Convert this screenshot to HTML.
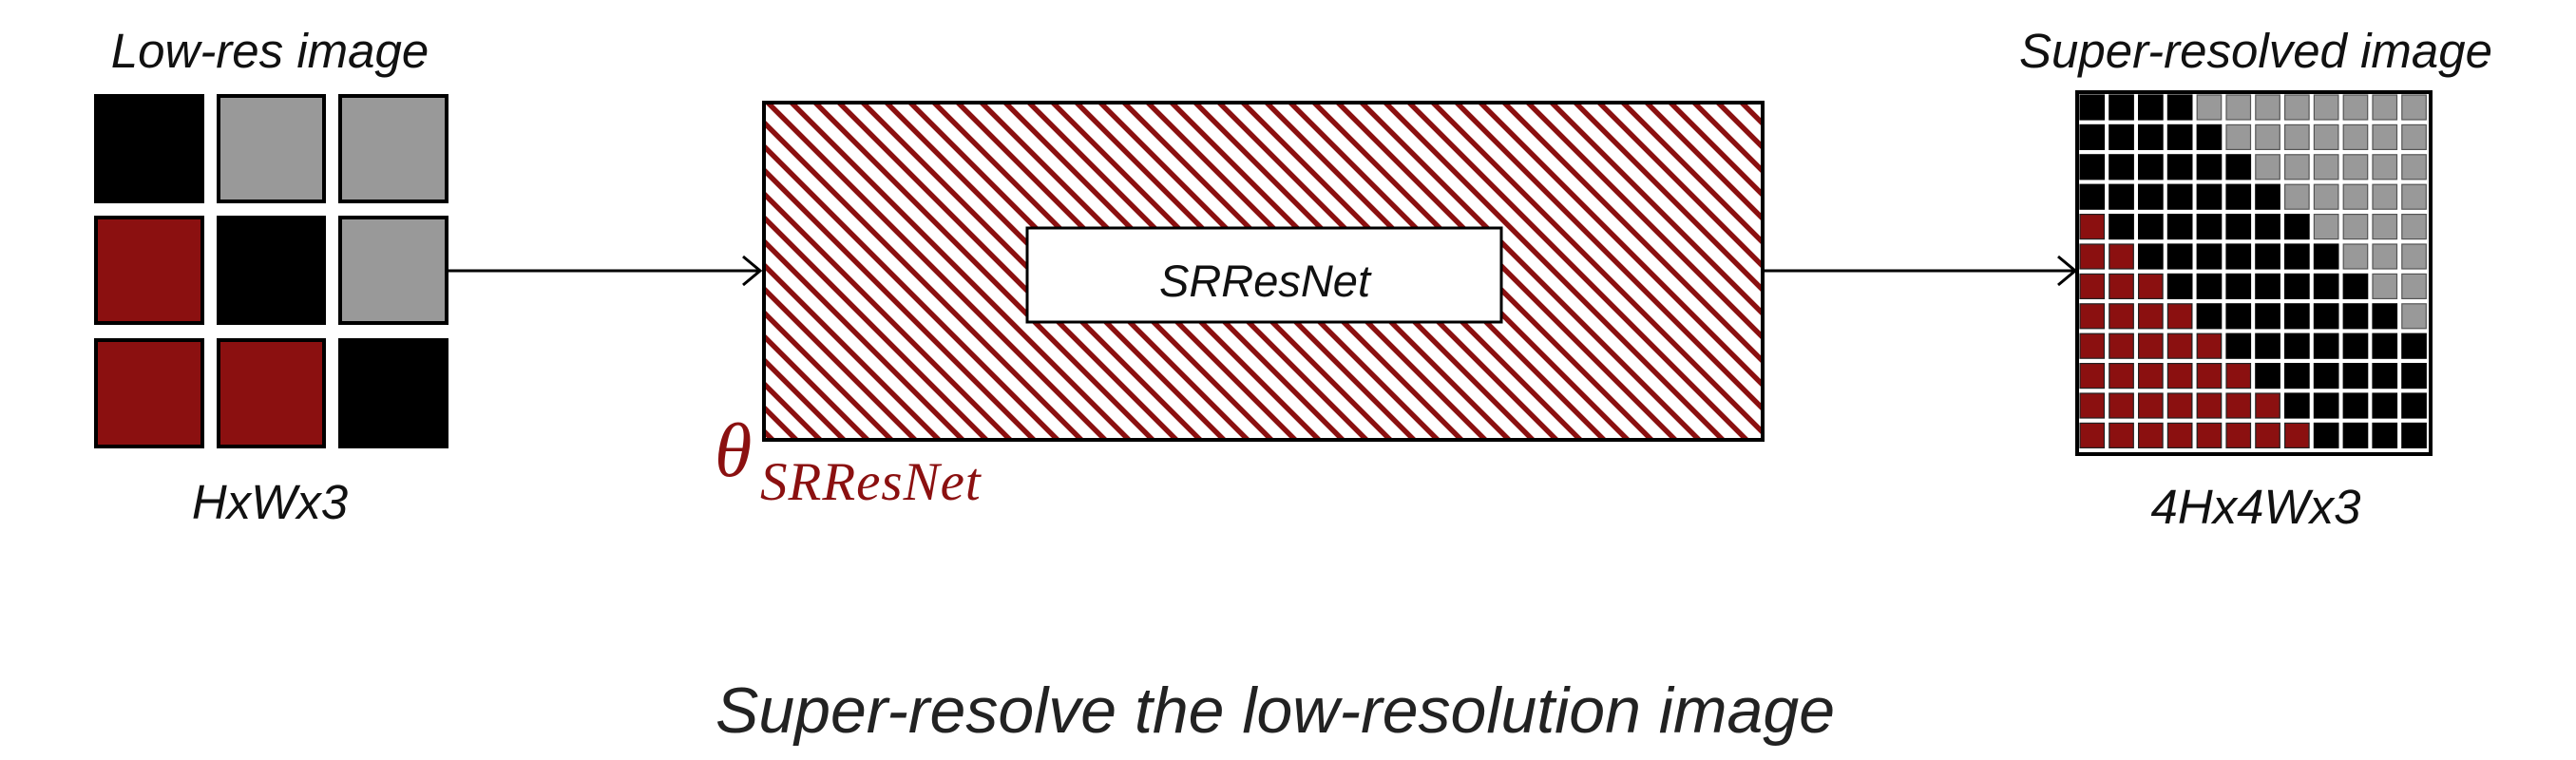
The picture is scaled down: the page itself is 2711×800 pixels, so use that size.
<!DOCTYPE html>
<html><head><meta charset="utf-8"><style>
html,body{margin:0;padding:0;background:#fff;}
body{width:2711px;height:800px;position:relative;overflow:hidden;font-family:"Liberation Sans",sans-serif;}
.t{position:absolute;font-style:italic;color:#111;white-space:nowrap;transform:translateX(-50%);line-height:1;}
</style></head><body>
<svg width="2711" height="800" style="position:absolute;left:0;top:0">
<defs>
<pattern id="h" patternUnits="userSpaceOnUse" width="25" height="25">
<rect width="25" height="25" fill="#fff"/>
<path d="M-6.25,-6.25 L31.25,31.25 M-18.75,6.25 L18.75,43.75 M6.25,-18.75 L43.75,18.75" stroke="#8b1010" stroke-width="5.5"/>
</pattern>
</defs>
<rect x="99" y="99" width="116" height="115" fill="#000"/>
<rect x="230" y="101" width="111" height="111" fill="#999" stroke="#000" stroke-width="4"/>
<rect x="358" y="101" width="112" height="111" fill="#999" stroke="#000" stroke-width="4"/>
<rect x="101" y="229" width="112" height="111" fill="#8b1010" stroke="#000" stroke-width="4"/>
<rect x="228" y="227" width="115" height="115" fill="#000"/>
<rect x="358" y="229" width="112" height="111" fill="#999" stroke="#000" stroke-width="4"/>
<rect x="101" y="358" width="112" height="112" fill="#8b1010" stroke="#000" stroke-width="4"/>
<rect x="230" y="358" width="111" height="112" fill="#8b1010" stroke="#000" stroke-width="4"/>
<rect x="356" y="356" width="116" height="116" fill="#000"/>
<line x1="472" y1="285" x2="800" y2="285" stroke="#000" stroke-width="3"/>
<polyline points="782,270 800,285 782,300" fill="none" stroke="#000" stroke-width="3"/>
<line x1="1855" y1="285" x2="2184" y2="285" stroke="#000" stroke-width="3"/>
<polyline points="2166,270 2184,285 2166,300" fill="none" stroke="#000" stroke-width="3"/>
<rect x="804" y="108" width="1051" height="355" fill="url(#h)" stroke="#000" stroke-width="4"/>
<rect x="1081" y="240" width="499" height="99" fill="#fff" stroke="#000" stroke-width="3"/>
<rect x="2186" y="97" width="372" height="381" fill="#fff" stroke="#000" stroke-width="4"/>
<g id="g"></g>
</svg>
<div class="t" style="left:284px;top:28px;font-size:51px;">Low-res image</div>
<div class="t" style="left:284px;top:503px;font-size:51px;">HxWx3</div>
<div class="t" style="left:1331px;top:272px;font-size:47px;">SRResNet</div>
<div class="t" style="left:2374px;top:28px;font-size:51px;">Super-resolved image</div>
<div class="t" style="left:2374px;top:508px;font-size:51px;">4Hx4Wx3</div>
<div class="t" style="left:1342px;top:714px;font-size:68px;color:#222;">Super-resolve the low-resolution image</div>
<div style="position:absolute;left:752px;top:430px;font-family:'Liberation Serif',serif;font-style:italic;font-size:80px;color:#8b1010;">θ</div>
<div style="position:absolute;left:800px;top:475px;font-family:'Liberation Serif',serif;font-style:italic;font-size:57px;color:#8b1010;letter-spacing:1px;">SRResNet</div>
<script>
var g=document.getElementById('g'),s='';
for(var r=0;r<12;r++)for(var c=0;c<12;c++){
 var x=2188+c*30.8,y=99+r*31.4,f='#000',st='#000';
 if(c<r-3){f='#8b1010';st='#222';}else if(c>=4+r){f='#999';st='#555';}
 s+='<rect x="'+(x+1)+'" y="'+(y+1)+'" width="25.5" height="26" fill="'+f+'" stroke="'+st+'" stroke-width="1.2"/>';
}
g.innerHTML=s;
</script>
</body></html>
